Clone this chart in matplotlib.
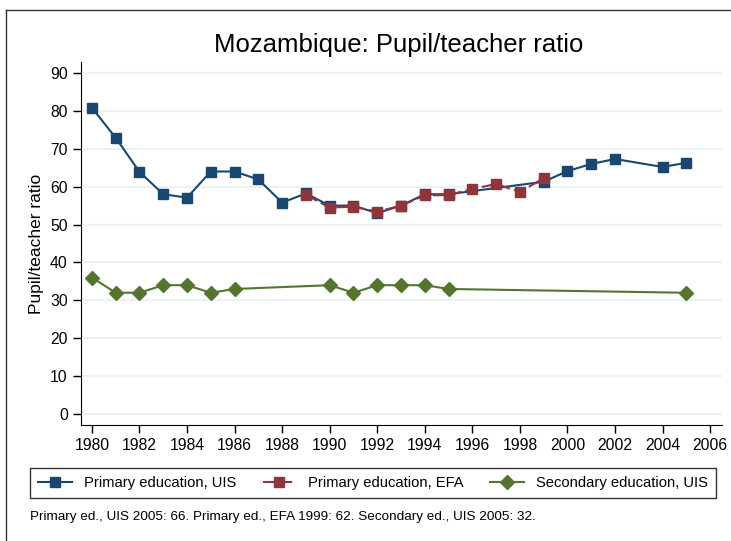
import matplotlib
matplotlib.use('Agg')
import matplotlib.pyplot as plt
from matplotlib.lines import Line2D

plt.rcParams['font.family'] = ['Liberation Sans', 'DejaVu Sans']

# data
years_uis = [1980, 1981, 1982, 1983, 1984, 1985, 1986, 1987, 1988, 1989, 1990,
             1991, 1992, 1993, 1994, 1995, 1999, 2000, 2001, 2002, 2004, 2005]
primary_uis = [80.8, 72.9, 63.9, 58.0, 57.1, 64.0, 64.0, 61.9, 55.8, 58.2, 55.0,
               55.0, 53.0, 55.0, 58.0, 58.0, 61.3, 64.1, 66.0, 67.3, 65.2, 66.3]

years_efa = [1989, 1990, 1991, 1992, 1993, 1994, 1995, 1996, 1997, 1998, 1999]
primary_efa = [57.8, 54.5, 54.7, 53.4, 55.0, 57.7, 57.8, 59.4, 60.7, 58.6, 62.2]

years_sec = [1980, 1981, 1982, 1983, 1984, 1985, 1986, 1990, 1991, 1992, 1993,
             1994, 1995, 2005]
secondary_uis = [36, 32, 32, 34, 34, 32, 33, 34, 32, 34, 34, 34, 33, 32]

xticks = list(range(1980, 2007, 2))
yticks = list(range(0, 91, 10))

blue = '#1a476f'
red = '#90353b'
green = '#55752f'

W, H = 731, 541
fig = plt.figure(figsize=(W / 100, H / 100), dpi=100)
ax = fig.add_axes([81 / W, 1 - 425 / H, (722 - 81) / W, (425 - 62) / H])

ax.plot(years_uis, primary_uis, color=blue, lw=1.5, marker='s', ms=7.5,
        mec=blue, label='Primary education, UIS', zorder=3)
ax.plot(years_efa, primary_efa, color=red, lw=1.5, ls=(0, (6, 2)), marker='s', ms=7.5,
        mec=red, label='Primary education, EFA', zorder=4)
ax.plot(years_sec, secondary_uis, color=green, lw=1.5, marker='D', ms=7.5,
        mec=green, label='Secondary education, UIS', zorder=3)

ax.set_xlim(1979.54, 2006.5)
ax.set_ylim(-2.9, 92.9)
ax.set_xticks(xticks)
ax.set_yticks(yticks)
ax.tick_params(direction='out', length=6, width=1, labelsize=11.3, colors='black')
ax.yaxis.grid(True, color='#eaf2f3', lw=1.5)
ax.set_axisbelow(True)
for s in ['top', 'right']:
    ax.spines[s].set_visible(False)
ax.set_ylabel('Pupil/teacher ratio', fontsize=12.5)

fig.text(399 / W, 1 - 45 / H, 'Mozambique: Pupil/teacher ratio',
         ha='center', va='center', fontsize=18.5)

leg = fig.legend(loc='lower left', bbox_to_anchor=(30 / W, 1 - 498 / H, 686 / W, 35 / H),
                 mode='expand', ncol=3, fontsize=10.6, frameon=True, fancybox=False,
                 edgecolor='black', handlelength=2.3, borderaxespad=0, borderpad=0.55)
leg.get_frame().set_linewidth(1)

fig.text(30 / W, 1 - 517 / H,
         'Primary ed., UIS 2005: 66. Primary ed., EFA 1999: 62. Secondary ed., UIS 2005: 32.',
         ha='left', va='center', fontsize=9.7)

# outer graph-region border (right and bottom are cut off in the original)
fig.add_artist(Line2D([6 / W, 6 / W], [0, 1 - 10 / H], transform=fig.transFigure,
                      color='#333333', lw=1))
fig.add_artist(Line2D([6 / W, 1], [1 - 10 / H, 1 - 10 / H], transform=fig.transFigure,
                      color='#333333', lw=1))

fig.savefig('out.png', dpi=100)
